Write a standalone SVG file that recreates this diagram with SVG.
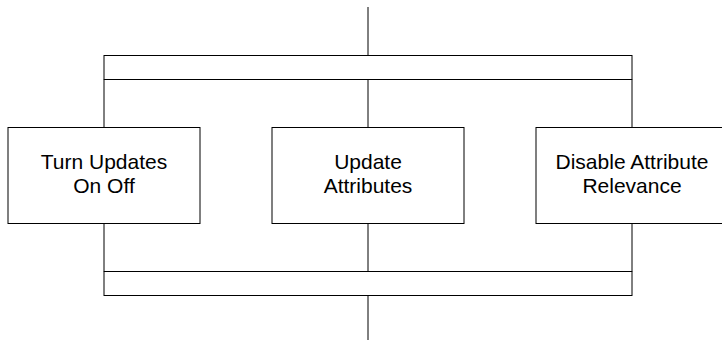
<svg xmlns="http://www.w3.org/2000/svg" width="722" height="340" viewBox="0 0 722 340">
<style>
.ln{stroke:#000;stroke-width:1;fill:none}
.box{fill:#fff;stroke:#000;stroke-width:1}
.bar{fill:#fff;stroke:#000;stroke-width:1}
.t{font-family:"Liberation Sans",Arial,sans-serif;font-size:21px;fill:#000;text-anchor:middle}
</style>
<rect width="722" height="340" fill="#fff"/>
<g id="connectors">
<line class="ln" x1="368" y1="7" x2="368" y2="55.5"/>
<line class="ln" x1="104" y1="79.5" x2="104" y2="127.5"/>
<line class="ln" x1="368" y1="79.5" x2="368" y2="127.5"/>
<line class="ln" x1="632" y1="79.5" x2="632" y2="127.5"/>
<line class="ln" x1="104" y1="223.5" x2="104" y2="271.5"/>
<line class="ln" x1="368" y1="223.5" x2="368" y2="271.5"/>
<line class="ln" x1="632" y1="223.5" x2="632" y2="271.5"/>
<line class="ln" x1="368" y1="295.5" x2="368" y2="340"/>
</g>
<g id="fork-bar">
<rect class="bar" x="104" y="55.5" width="528" height="24"/>
</g>
<g id="join-bar">
<rect class="bar" x="104" y="271.5" width="528" height="24"/>
</g>
<g id="turn-updates">
<rect class="box" x="8" y="127.5" width="192" height="96"/>
<text class="t" x="104" y="169">Turn Updates</text>
<text class="t" x="104" y="193">On Off</text>
</g>
<g id="update-attributes">
<rect class="box" x="272" y="127.5" width="192" height="96"/>
<text class="t" x="368" y="169">Update</text>
<text class="t" x="368" y="193">Attributes</text>
</g>
<g id="disable-attribute-relevance">
<rect class="box" x="536" y="127.5" width="192" height="96"/>
<text class="t" x="632" y="169">Disable Attribute</text>
<text class="t" x="632" y="193">Relevance</text>
</g>
</svg>
